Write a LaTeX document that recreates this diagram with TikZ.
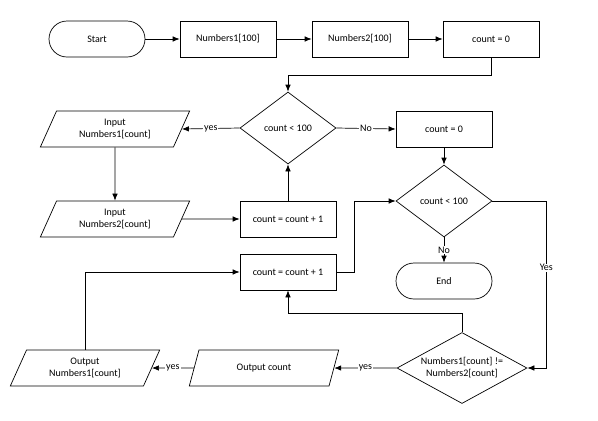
\documentclass[tikz,border=0pt]{standalone}
\usepackage{fontspec}
\setmainfont{Carlito}
\usetikzlibrary{shapes.geometric,arrows.meta}

\newcommand\boxw{96pt}
\newcommand\boxh{36pt}

\begin{document}
\begin{tikzpicture}[x=1pt,y=1pt,line width=0.7pt,
  >={Latex[length=7pt,width=5.5pt]},
  every node/.style={font=\fontsize{10}{12}\selectfont, align=center},
  process/.style={draw, rectangle, minimum width=\boxw, minimum height=\boxh, inner sep=0pt},
  terminal/.style={draw, rectangle, rounded corners=18pt, minimum width=\boxw, minimum height=\boxh, inner sep=0pt},
  decision/.style={draw, diamond, inner sep=0pt, minimum width=96pt, minimum height=72pt, aspect=1.33},
  io/.style={draw, trapezium, trapezium left angle=63.4, trapezium right angle=116.6, trapezium stretches=true, minimum width=150pt, minimum height=\boxh, inner sep=0pt},
  lbl/.style={fill=white, inner sep=1pt}]

\useasboundingbox (0,0) rectangle (598,-421);

% Knoten
\draw (97,-39) node[terminal] (Start) {Start};
\draw (228,-39) node[process] (ArrOne) {Numbers1[100]};
\draw (360,-39) node[process] (ArrTwo) {Numbers2[100]};
\draw (491,-39) node[process] (InitCount) {count = 0};

\draw (288,-128) node[decision] (InputLoop) {count < 100};
\draw (115,-129) node[io] (InputOne) {Input\\Numbers1[count]};
\draw (444,-129) node[process] (ResetCount) {count = 0};

\draw (115,-219) node[io] (InputTwo) {Input\\Numbers2[count]};
\draw (288,-219) node[process] (IncOne) {count = count + 1};

\draw (444,-201) node[decision] (CheckLoop) {count < 100};
\draw (444,-281) node[terminal] (End) {End};
\draw (288,-272) node[process] (IncTwo) {count = count + 1};

\draw (462,-368) node[decision, minimum width=130pt, minimum height=71pt, aspect=1.83] (Compare) {Numbers1[count] !=\\Numbers2[count]};
\draw (264,-368) node[io] (OutCount) {Output count};
\draw (85,-368) node[io] (OutNumber) {Output\\Numbers1[count]};

% Striche
\draw[->] (Start) -- (ArrOne);
\draw[->] (ArrOne) -- (ArrTwo);
\draw[->] (ArrTwo) -- (InitCount);
\draw[->] (InitCount.south) -- ++(0,-18) -| (InputLoop.north);
\draw[->] (InputLoop.west) -- node[lbl] {yes} (InputOne.east);
\draw[->] (InputLoop.east) -- node[lbl] {No} (ResetCount.west);
\draw[->] (InputOne) -- (InputTwo);
\draw[->] (InputTwo.east) -- (IncOne.west);
\draw[->] (IncOne) -- (InputLoop);

\draw[->] (ResetCount) -- (CheckLoop);
\draw[->] (CheckLoop.south) -- node[lbl] {No} (End.north);
\draw[->] (CheckLoop.east) -- ++(54,0) |- node[lbl, pos=0.2] {Yes} (Compare.east);
\draw[->] (Compare.west) -- node[lbl] {yes} (OutCount.east);
\draw[->] (OutCount.west) -- node[lbl] {yes} (OutNumber.east);
\draw[->] (OutNumber.north) |- (IncTwo.west);
\draw[->] (Compare.north) -- ++(0,19) -| (IncTwo.south);
\draw[->] (IncTwo.east) -- ++(18,0) |- (CheckLoop.west);

\end{tikzpicture}
\end{document}
